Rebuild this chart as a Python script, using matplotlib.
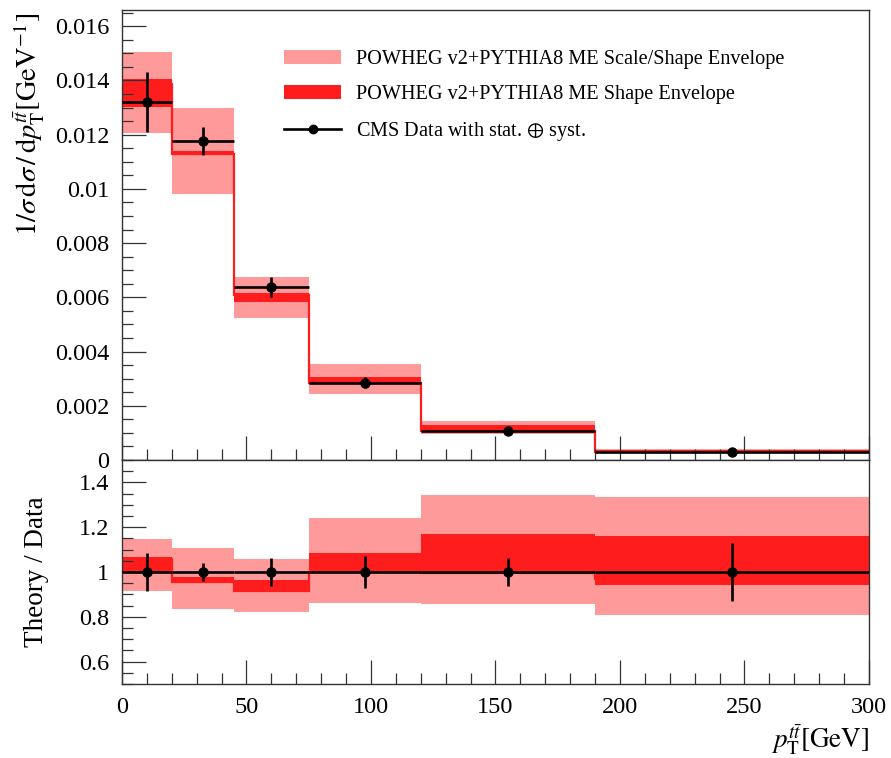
import matplotlib
matplotlib.use('Agg')
import matplotlib.pyplot as plt
from matplotlib.patches import Patch
from matplotlib.lines import Line2D
from matplotlib.ticker import MultipleLocator, FormatStrFormatter

# ---------------- data ----------------
bin_edges = [0, 20, 45, 75, 120, 190, 300]
bin_centers = [10, 32.5, 60, 97.5, 155, 245]
bin_half_widths = [10, 12.5, 15, 22.5, 35, 55]

data_values = [0.0132, 0.01177, 0.00638, 0.00285, 0.00108, 0.00031]
data_errors = [0.0011, 0.0005, 0.00037, 0.00021, 0.00007, 0.00004]

scale_shape_up = [0.01505, 0.0130, 0.00676, 0.00353, 0.00144, 0.00041]
scale_shape_down = [0.01207, 0.00981, 0.00525, 0.00243, 0.00095, 0.00025]
shape_up = [0.01407, 0.01139, 0.00615, 0.00307, 0.00129, 0.00036]
shape_down = [0.01302, 0.01124, 0.00584, 0.00283, 0.00107, 0.00029]
nominal = [0.01386, 0.01128, 0.0061, 0.00285, 0.00107, 0.0003]

ratio_ss_up = [1.147, 1.109, 1.058, 1.240, 1.342, 1.333]
ratio_ss_down = [0.917, 0.833, 0.823, 0.860, 0.857, 0.808]
ratio_s_up = [1.068, 0.979, 0.964, 1.083, 1.170, 1.161]
ratio_s_down = [0.995, 0.952, 0.912, 0.995, 0.995, 0.942]
ratio_nominal = [1.06, 0.957, 0.915, 1.0, 0.995, 0.97]
ratio_data = [1, 1, 1, 1, 1, 1]
ratio_errors = [0.085, 0.041, 0.061, 0.072, 0.063, 0.13]

legend_labels = ['POWHEG v2+PYTHIA8 ME Scale/Shape Envelope',
                 'POWHEG v2+PYTHIA8 ME Shape Envelope',
                 r'CMS Data with stat. $\oplus$ syst.']

# ---------------- style ----------------
plt.rcParams['font.family'] = ['Liberation Serif', 'DejaVu Serif']
plt.rcParams['mathtext.fontset'] = 'stix'
light = '#ff9a9a'
dark = '#ff1c1c'
axcol = '#333333'
fs = 17.5

fig = plt.figure(figsize=(8.91, 7.58), dpi=100)
ax = fig.add_axes([0.1369, 0.3931, 0.8384, 0.5937])
axr = fig.add_axes([0.1369, 0.0976, 0.8384, 0.2955], sharex=ax)

def style(a):
    for s in a.spines.values():
        s.set_color(axcol)
        s.set_linewidth(1.0)
    a.tick_params(which='both', direction='in', top=False, right=False,
                  color=axcol, width=0.9, labelsize=fs, pad=9)
    a.tick_params(which='major', length=17)
    a.tick_params(which='minor', length=8)
    a.xaxis.set_major_locator(MultipleLocator(50))
    a.xaxis.set_minor_locator(MultipleLocator(10))

# ---------------- top panel ----------------
ax.stairs(scale_shape_up, bin_edges, baseline=scale_shape_down, fill=True,
          color=light, lw=0)
ax.stairs(shape_up, bin_edges, baseline=shape_down, fill=True,
          color=dark, lw=0)
ax.stairs(nominal, bin_edges, baseline=None, color=dark, lw=1.6)
ax.errorbar(bin_centers, data_values, yerr=data_errors, xerr=bin_half_widths,
            fmt='o', color='black', ms=6.5, elinewidth=1.9, capsize=0, zorder=5)
style(ax)
ax.set_xlim(0, 300)
ax.set_ylim(0, 0.0166)
ax.yaxis.set_major_locator(MultipleLocator(0.002))
ax.yaxis.set_minor_locator(MultipleLocator(0.0005))
ax.yaxis.set_major_formatter(FormatStrFormatter('%g'))
ax.tick_params(axis='x', labelbottom=False)
ax.set_ylabel(r'$1/\sigma\,\mathrm{d}\sigma\,/\,\mathrm{d}p_{\mathrm{T}}^{t\bar{t}}[\mathrm{GeV}^{-1}]$',
              fontsize=20.5, loc='top')
ax.yaxis.set_label_coords(-0.1, 0.994)

handles = [Patch(facecolor=light, edgecolor='none'),
           Patch(facecolor=dark, edgecolor='none'),
           Line2D([], [], color='black', marker='o', ms=6, lw=1.9)]
ax.legend(handles, legend_labels, loc='upper left', bbox_to_anchor=(0.192, 0.952),
          frameon=False, fontsize=14.6, handlelength=2.85, handleheight=0.7,
          handletextpad=0.7, labelspacing=0.78)

# ---------------- ratio panel ----------------
axr.stairs(ratio_ss_up, bin_edges, baseline=ratio_ss_down, fill=True,
           color=light, lw=0)
axr.stairs(ratio_s_up, bin_edges, baseline=ratio_s_down, fill=True,
           color=dark, lw=0)
axr.stairs(ratio_nominal, bin_edges, baseline=None, color=dark, lw=1.6)
axr.errorbar(bin_centers, ratio_data, yerr=ratio_errors, xerr=bin_half_widths,
             fmt='o', color='black', ms=6.5, elinewidth=1.9, capsize=0, zorder=5)
style(axr)
axr.set_ylim(0.5, 1.5)
axr.yaxis.set_major_locator(MultipleLocator(0.2))
axr.yaxis.set_minor_locator(MultipleLocator(0.05))
axr.yaxis.set_major_formatter(FormatStrFormatter('%g'))
axr.xaxis.set_major_formatter(FormatStrFormatter('%g'))
axr.set_ylabel('Theory / Data', fontsize=19.5)
axr.yaxis.set_label_coords(-0.098, 0.5)
axr.set_xlabel(r'$p_{\mathrm{T}}^{t\bar{t}}[\mathrm{GeV}]$', fontsize=19.5, loc='right')
axr.xaxis.set_label_coords(1.0, -0.17)

fig.savefig('out.png', dpi=100)
